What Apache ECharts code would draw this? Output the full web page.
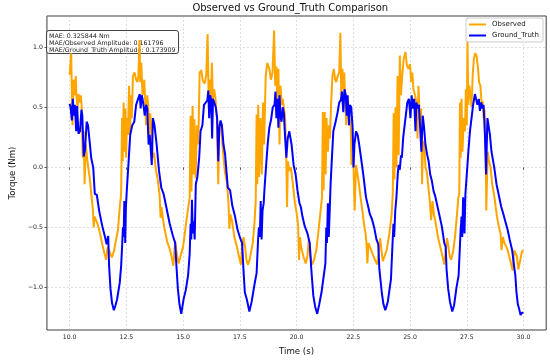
<!DOCTYPE html>
<html>
<head>
<meta charset="utf-8">
<script src="https://cdn.jsdelivr.net/npm/echarts@6/dist/echarts.min.js"></script>
<style>html,body{margin:0;padding:0;background:#fff}#c{width:550px;height:361px}</style>
</head>
<body>
<div id="c"></div>
<script>
const titleText = 'Observed vs Ground_Truth Comparison';
const xName = 'Time (s)';
const yName = 'Torque (Nm)';
const seriesNames = ['Observed', 'Ground_Truth'];
const xTicks = [10, 12.5, 15, 17.5, 20, 22.5, 25, 27.5, 30];
const statLines = ['MAE: 0.325844 Nm', 'MAE/Observed Amplitude: 0.161796', 'MAE/Ground_Truth Amplitude: 0.173909'];

const timeObs = [10.00,10.03,10.07,10.10,10.13,10.17,10.22,10.27,10.30,10.35,10.39,10.45,10.49,10.53,10.58,10.62,10.66,10.71,10.77,10.82,10.88,10.95,11.03,11.06,11.10,11.16,11.23,11.34,11.45,11.55,11.61,11.68,11.75,11.86,11.95,12.02,12.13,12.21,12.27,12.31,12.34,12.38,12.41,12.46,12.49,12.53,12.57,12.62,12.66,12.70,12.74,12.79,12.86,12.93,12.99,13.03,13.08,13.11,13.16,13.21,13.25,13.29,13.33,13.37,13.42,13.46,13.51,13.55,13.60,13.66,13.72,13.80,13.88,13.96,14.01,14.05,14.12,14.19,14.30,14.41,14.49,14.57,14.65,14.72,14.80,14.88,15.00,15.15,15.29,15.33,15.37,15.42,15.46,15.50,15.55,15.61,15.67,15.73,15.80,15.87,15.96,16.02,16.08,16.13,16.18,16.23,16.27,16.31,16.37,16.43,16.49,16.55,16.59,16.67,16.73,16.84,16.94,17.00,17.04,17.08,17.15,17.26,17.37,17.47,17.55,17.60,17.66,17.73,17.79,17.86,17.93,18.07,18.15,18.20,18.24,18.27,18.31,18.35,18.41,18.47,18.52,18.57,18.64,18.71,18.80,18.87,18.94,19.01,19.06,19.11,19.16,19.20,19.25,19.29,19.35,19.39,19.44,19.49,19.55,19.58,19.62,19.68,19.75,19.82,19.93,20.01,20.07,20.11,20.15,20.20,20.30,20.40,20.48,20.54,20.61,20.68,20.77,20.87,20.97,21.06,21.12,21.16,21.19,21.24,21.28,21.32,21.38,21.43,21.47,21.52,21.58,21.64,21.70,21.75,21.81,21.88,21.93,21.97,22.02,22.06,22.10,22.15,22.19,22.23,22.29,22.33,22.38,22.42,22.47,22.51,22.56,22.62,22.68,22.75,22.82,22.90,22.97,23.04,23.08,23.12,23.17,23.25,23.37,23.48,23.56,23.63,23.68,23.74,23.80,23.87,23.97,24.09,24.19,24.24,24.28,24.31,24.36,24.40,24.45,24.50,24.55,24.60,24.65,24.72,24.80,24.86,24.93,25.00,25.05,25.10,25.15,25.22,25.28,25.33,25.37,25.42,25.46,25.49,25.53,25.57,25.62,25.68,25.75,25.82,25.88,25.93,25.99,26.06,26.11,26.23,26.33,26.43,26.51,26.57,26.63,26.69,26.75,26.81,26.90,26.98,27.07,27.13,27.17,27.20,27.23,27.27,27.31,27.37,27.42,27.46,27.50,27.53,27.57,27.61,27.67,27.71,27.76,27.81,27.87,27.93,28.00,28.04,28.10,28.16,28.20,28.24,28.28,28.33,28.36,28.42,28.48,28.55,28.62,28.72,28.83,28.92,28.99,29.03,29.09,29.16,29.24,29.30,29.37,29.45,29.52,29.59,29.65,29.71,29.77,29.86,29.93,30.00];
const obsValues = [0.77,0.76,0.95,0.60,0.35,0.73,0.60,0.76,0.60,0.49,0.61,0.54,0.60,0.52,0.08,0.30,-0.14,0.19,0.08,0.00,-0.08,-0.21,-0.36,-0.50,-0.41,-0.40,-0.47,-0.55,-0.65,-0.73,-0.77,-0.66,-0.70,-0.75,-0.70,-0.63,-0.52,-0.33,-0.22,0.41,0.05,0.54,0.13,0.49,0.08,0.41,0.27,0.68,0.27,0.60,0.41,0.76,0.79,0.73,0.71,0.76,1.06,0.71,0.87,0.60,0.65,0.73,0.54,0.35,0.60,0.52,0.27,0.45,0.35,0.08,0.12,-0.02,-0.10,-0.22,-0.42,-0.33,-0.44,-0.52,-0.62,-0.68,-0.74,-0.82,-0.61,-0.72,-0.80,-0.79,-0.66,-0.44,-0.25,0.43,-0.20,0.51,-0.06,0.40,-0.09,0.35,0.19,0.79,0.81,0.72,0.70,0.77,1.11,0.54,0.73,0.57,0.87,0.57,0.65,0.57,0.40,-0.14,0.35,0.38,0.19,-0.03,-0.14,-0.30,-0.51,-0.39,-0.44,-0.58,-0.66,-0.75,-0.81,-0.67,-0.58,-0.66,-0.77,-0.81,-0.77,-0.63,-0.45,-0.28,0.44,-0.14,0.52,-0.08,0.41,-0.06,0.54,0.19,0.76,0.87,0.82,0.73,0.79,1.14,0.68,0.84,0.46,0.82,0.19,0.68,0.52,0.57,0.50,0.43,0.05,-0.33,0.05,-0.03,0.00,-0.11,-0.30,-0.39,-0.49,-0.77,-0.58,-0.66,-0.74,-0.80,-0.74,-0.60,-0.74,-0.81,-0.77,-0.69,-0.52,-0.36,-0.25,0.46,-0.19,0.46,-0.06,0.41,0.13,0.35,0.24,0.52,0.76,0.82,0.73,0.71,0.76,0.79,1.12,0.60,0.82,0.65,0.79,0.52,0.35,0.57,0.46,0.35,0.40,0.02,0.10,0.00,-0.36,0.02,-0.05,-0.14,-0.25,-0.36,-0.47,-0.55,-0.63,-0.80,-0.63,-0.67,-0.73,-0.78,-0.81,-0.69,-0.59,-0.69,-0.78,-0.78,-0.69,-0.55,-0.39,-0.22,0.45,-0.10,0.50,0.00,0.76,0.10,0.93,0.60,0.75,0.90,0.96,0.85,0.82,0.86,0.71,0.79,0.65,0.60,0.54,0.24,0.68,0.45,0.33,0.49,-0.14,0.19,0.22,0.00,-0.05,-0.19,-0.30,-0.44,-0.28,-0.40,-0.44,-0.58,-0.66,-0.74,-0.81,-0.69,-0.59,-0.66,-0.74,-0.77,-0.70,-0.58,-0.39,-0.25,-0.22,0.54,0.08,0.57,0.13,0.41,0.30,0.65,0.35,1.06,0.52,0.68,0.60,0.50,0.76,0.90,0.95,0.93,0.82,0.71,0.68,0.52,0.55,0.41,0.48,0.30,-0.36,0.13,0.05,0.00,-0.14,-0.25,-0.41,-0.50,-0.55,-0.69,-0.58,-0.63,-0.66,-0.69,-0.74,-0.80,-0.86,-0.69,-0.69,-0.74,-0.85,-0.77,-0.70,-0.69];

const timeGT = [10.00,10.04,10.10,10.14,10.19,10.23,10.29,10.33,10.39,10.46,10.52,10.56,10.62,10.68,10.75,10.81,10.88,10.95,11.04,11.11,11.20,11.30,11.44,11.56,11.63,11.70,11.74,11.80,11.87,11.95,12.02,12.09,12.21,12.27,12.32,12.35,12.38,12.41,12.45,12.48,12.52,12.60,12.67,12.76,12.85,12.93,13.00,13.09,13.13,13.18,13.24,13.31,13.37,13.42,13.48,13.53,13.62,13.67,13.74,13.83,13.94,14.04,14.14,14.26,14.41,14.55,14.65,14.70,14.77,14.84,14.92,15.02,15.12,15.22,15.29,15.33,15.36,15.39,15.43,15.47,15.51,15.56,15.63,15.71,15.77,15.85,15.92,16.00,16.07,16.11,16.15,16.19,16.24,16.28,16.32,16.38,16.44,16.50,16.55,16.60,16.65,16.71,16.78,16.85,16.97,17.07,17.17,17.29,17.40,17.50,17.60,17.66,17.72,17.81,17.92,18.02,18.16,18.24,18.30,18.34,18.38,18.42,18.46,18.50,18.55,18.59,18.66,18.73,18.80,18.88,18.95,19.03,19.07,19.11,19.16,19.20,19.25,19.29,19.34,19.39,19.44,19.49,19.55,19.61,19.68,19.78,19.87,19.96,20.04,20.13,20.19,20.26,20.36,20.48,20.58,20.65,20.74,20.82,20.91,21.00,21.10,21.20,21.27,21.31,21.34,21.38,21.42,21.46,21.50,21.55,21.62,21.72,21.81,21.88,21.95,22.00,22.06,22.11,22.17,22.21,22.25,22.31,22.35,22.41,22.47,22.51,22.55,22.62,22.69,22.76,22.84,22.94,23.06,23.16,23.23,23.32,23.42,23.52,23.60,23.65,23.76,23.83,23.91,24.02,24.16,24.23,24.27,24.30,24.35,24.40,24.46,24.50,24.55,24.60,24.64,24.70,24.73,24.80,24.88,24.95,25.02,25.07,25.12,25.18,25.24,25.28,25.33,25.39,25.44,25.50,25.56,25.62,25.68,25.75,25.82,25.89,25.96,26.04,26.11,26.25,26.40,26.51,26.57,26.61,26.68,26.76,26.86,26.94,27.04,27.14,27.23,27.27,27.30,27.34,27.37,27.40,27.44,27.50,27.57,27.64,27.71,27.78,27.86,27.92,27.97,28.03,28.08,28.14,28.19,28.24,28.30,28.35,28.41,28.46,28.52,28.59,28.71,28.81,28.91,29.02,29.10,29.20,29.30,29.39,29.50,29.57,29.64,29.69,29.75,29.81,29.87,29.93,30.00];
const gtValues = [0.53,0.50,0.39,0.57,0.43,0.52,0.30,0.51,0.28,0.30,0.48,0.43,0.09,0.15,0.38,0.35,0.22,0.08,0.00,-0.22,-0.23,-0.36,-0.49,-0.58,-0.64,-0.57,-0.82,-1.01,-1.13,-1.19,-1.15,-1.10,-0.96,-0.82,-0.63,-0.50,-0.58,-0.28,-0.63,-0.33,-0.19,0.05,0.27,0.35,0.38,0.52,0.56,0.61,0.49,0.60,0.54,0.43,0.52,0.49,0.19,0.27,0.02,0.41,0.35,0.20,-0.03,-0.17,-0.22,-0.33,-0.47,-0.57,-0.63,-0.80,-1.01,-1.14,-1.22,-1.10,-1.02,-0.90,-0.72,-0.47,-0.60,-0.27,-0.55,-0.45,-0.60,-0.14,-0.08,0.08,0.30,0.35,0.52,0.54,0.56,0.64,0.41,0.60,0.56,0.24,0.57,0.57,0.50,0.41,0.05,0.33,0.39,0.35,0.19,0.11,-0.17,-0.19,-0.32,-0.41,-0.52,-0.58,-0.63,-0.85,-1.04,-1.10,-1.20,-1.12,-0.96,-0.88,-0.62,-0.50,-0.58,-0.28,-0.60,-0.36,-0.30,-0.17,0.02,0.20,0.33,0.40,0.50,0.52,0.63,0.41,0.57,0.33,0.60,0.43,0.38,0.50,0.45,0.27,0.08,0.24,0.30,0.19,0.02,-0.06,-0.19,-0.30,-0.33,-0.41,-0.49,-0.55,-0.63,-0.85,-1.07,-1.16,-1.22,-1.14,-1.04,-0.90,-0.80,-0.50,-0.63,-0.30,-0.58,-0.36,-0.14,0.05,0.30,0.38,0.46,0.54,0.56,0.63,0.46,0.65,0.60,0.43,0.60,0.35,0.52,0.50,0.33,0.00,0.19,0.30,0.27,0.19,0.08,-0.06,-0.25,-0.33,-0.39,-0.43,-0.50,-0.60,-0.64,-0.85,-1.05,-1.14,-1.19,-1.12,-0.93,-0.63,-0.47,-0.58,-0.36,-0.25,-0.05,0.02,-0.02,0.10,0.08,0.25,0.30,0.41,0.54,0.57,0.41,0.60,0.49,0.57,0.30,0.54,0.49,0.52,0.35,0.13,0.43,0.33,0.19,0.11,0.05,-0.06,-0.11,-0.20,-0.24,-0.36,-0.49,-0.63,-0.66,-0.85,-1.01,-1.12,-1.20,-1.15,-1.01,-0.90,-0.52,-0.41,-0.58,-0.25,-0.36,-0.55,-0.22,-0.06,0.13,0.30,0.41,0.52,0.61,0.60,0.52,0.57,0.47,0.54,0.49,0.52,0.27,-0.06,0.41,0.35,0.27,0.13,0.00,-0.14,-0.23,-0.33,-0.38,-0.45,-0.52,-0.60,-0.69,-0.80,-0.90,-1.04,-1.14,-1.18,-1.23,-1.21,-1.21];

const FONT = 'DejaVu Sans';
const fmt = v => (v < 0 ? '\u2212' : '') + Math.abs(v).toFixed(1);

const chart = echarts.init(document.getElementById('c'), null, {renderer: 'canvas'});
const gridL = 38.6, gridR = 3.8, gridT = 16, gridB = 26;
const axCenter = gridL + (550 - gridL - gridR) / 2;

chart.setOption({
  animation: false,
  backgroundColor: '#ffffff',
  grid: {left: gridL, right: gridR, top: gridT, bottom: gridB, show: true, borderColor: '#3a3a3a', borderWidth: 1, backgroundColor: 'transparent', containLabel: false},
  xAxis: {
    type: 'value', min: 9, max: 31,
    name: xName, nameLocation: 'middle', nameGap: 17,
    nameTextStyle: {fontFamily: FONT, fontSize: 8.6, color: '#111'},
    axisLine: {show: false},
    axisTick: {show: true, length: 2.5, lineStyle: {color: '#3a3a3a', width: 0.8}, customValues: xTicks},
    axisLabel: {customValues: xTicks, formatter: fmt, fontFamily: FONT, fontSize: 6.2, color: '#222', margin: 4},
    splitLine: {show: true, customValues: xTicks, lineStyle: {color: 'rgba(176,176,176,0.6)', width: 0.7, type: [2, 2]}}
  },
  yAxis: {
    type: 'value', min: -1.354, max: 1.26, splitNumber: 5,
    name: yName, nameLocation: 'middle', nameGap: 26,
    nameTextStyle: {fontFamily: FONT, fontSize: 8.6, color: '#111'},
    axisLine: {show: false},
    axisTick: {show: true, length: 2.5, lineStyle: {color: '#3a3a3a', width: 0.8}},
    axisLabel: {formatter: fmt, fontFamily: FONT, fontSize: 6.2, color: '#222', margin: 4, showMinLabel: false, showMaxLabel: false},
    splitLine: {show: true, lineStyle: {color: 'rgba(176,176,176,0.6)', width: 0.7, type: [2, 2]}}
  },
  legend: {
    orient: 'vertical', right: 7, top: 18,
    data: seriesNames,
    icon: 'rect', itemWidth: 17, itemHeight: 2, itemGap: 4,
    padding: [3, 4, 3, 3],
    backgroundColor: 'rgba(255,255,255,0.85)', borderColor: '#cccccc', borderWidth: 1, borderRadius: 2,
    textStyle: {fontFamily: FONT, fontSize: 7, color: '#222', padding: [0, 0, 0, 1]}
  },
  graphic: [
    {type: 'text', left: axCenter - 100, top: 3, z: 10,
     style: {text: titleText, font: '10px "DejaVu Sans"', fill: '#111'}},
    {type: 'group', left: 46, top: 30, z: 100, children: [
      {type: 'rect', shape: {x: 0, y: 0, width: 132, height: 23, r: 2.5},
       style: {fill: 'rgba(255,255,255,0.8)', stroke: '#444', lineWidth: 1}},
      {type: 'text', x: 2.5, y: 2, style: {text: statLines.join('\n'), font: '6.3px "DejaVu Sans"', fill: '#222', lineHeight: 7}}
    ]}
  ],
  series: [
    {name: seriesNames[0], type: 'line', showSymbol: false, symbol: 'none', z: 2,
     lineStyle: {color: '#FFA500', width: 2}, itemStyle: {color: '#FFA500'},
     data: timeObs.map((t, i) => [t, obsValues[i]])},
    {name: seriesNames[1], type: 'line', showSymbol: false, symbol: 'none', z: 3,
     lineStyle: {color: '#0000FF', width: 2}, itemStyle: {color: '#0000FF'},
     data: timeGT.map((t, i) => [t, gtValues[i]])}
  ]
});
</script>
</body>
</html>
